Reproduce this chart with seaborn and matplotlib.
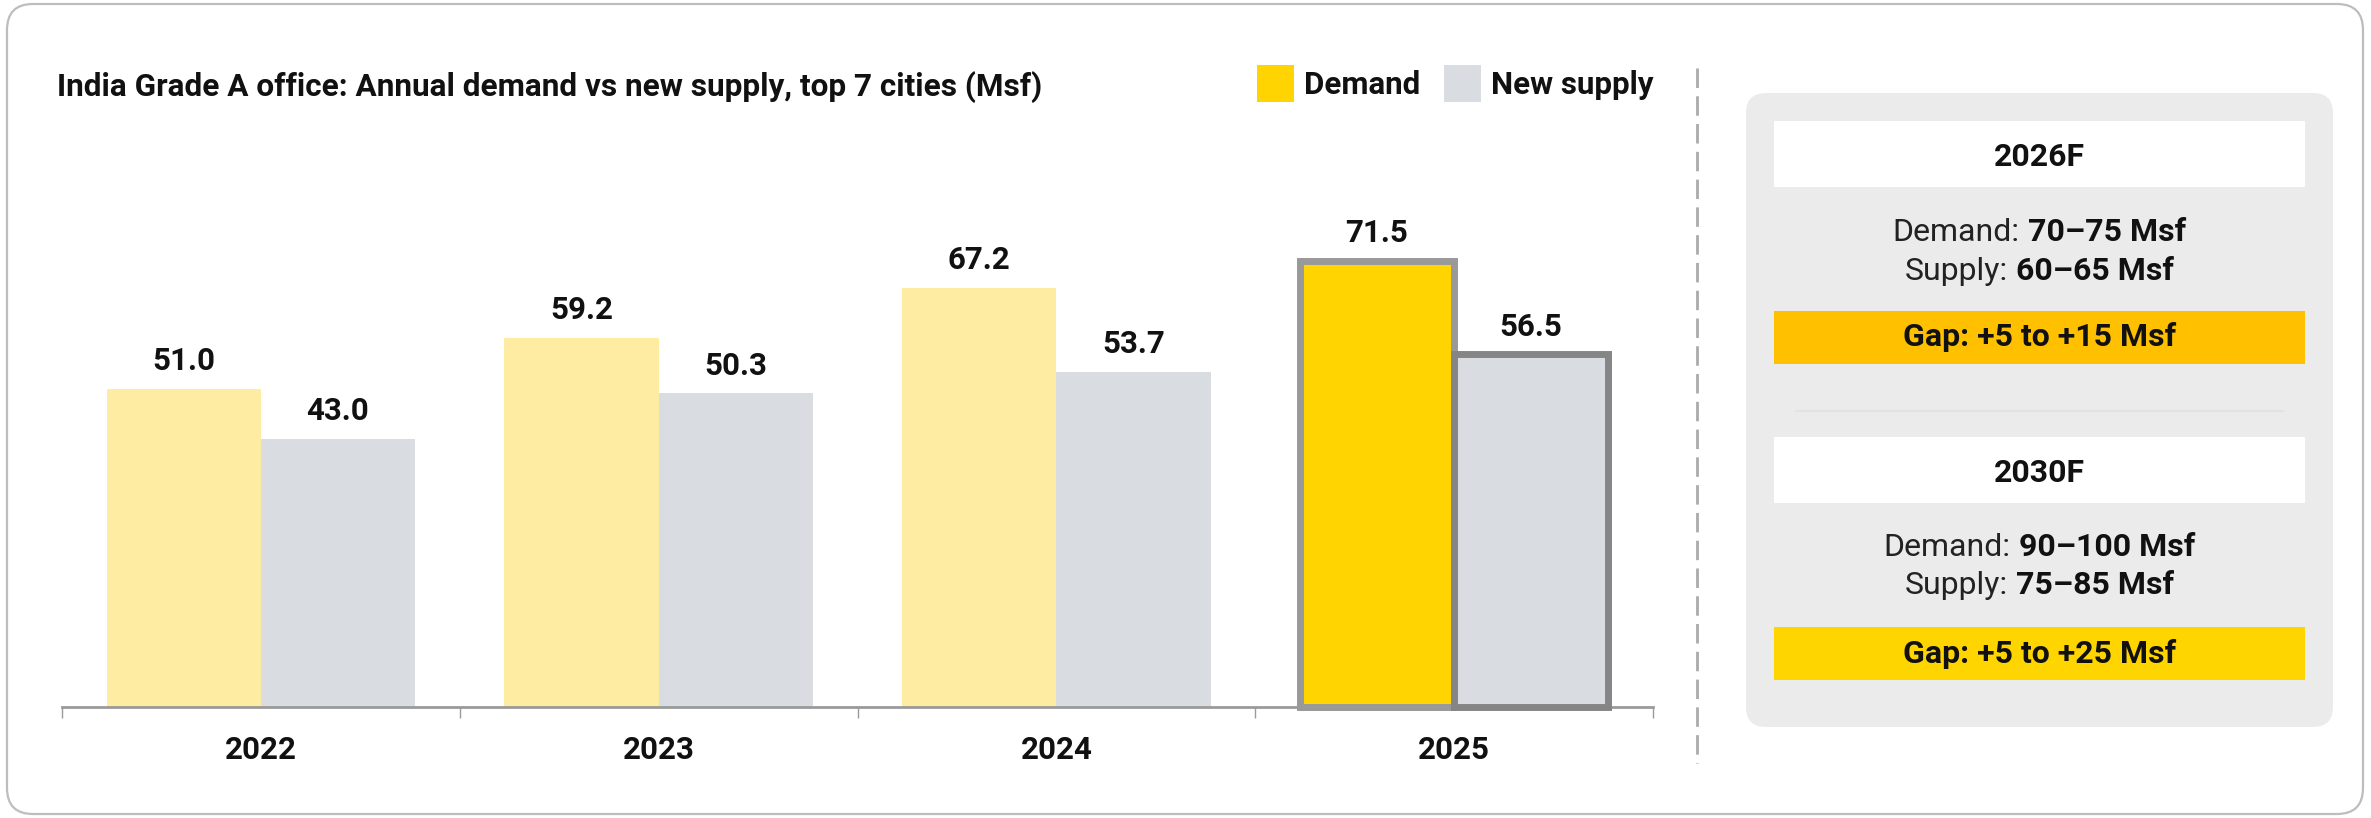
import numpy as np
import pandas as pd
import seaborn as sns
import matplotlib.pyplot as plt
from matplotlib.patches import FancyBboxPatch, Rectangle
from matplotlib.lines import Line2D
from matplotlib.transforms import IdentityTransform

# data
years = ['2022', '2023', '2024', '2025']
demand = [51.0, 59.2, 67.2, 71.5]
new_supply = [43.0, 50.3, 53.7, 56.5]

fc_years = ['2026F', '2030F']
fc_demand = ['70\u201375 Msf', '90\u2013100 Msf']
fc_supply = ['60\u201365 Msf', '75\u201385 Msf']
fc_gap = ['Gap: +5 to +15 Msf', 'Gap: +5 to +25 Msf']
fc_gap_colors = ['#FFC000', '#FFD500']

title = 'India Grade A office: Annual demand vs new supply, top 7 cities (Msf)'

YELLOW = '#FFD400'
YELLOW_LIGHT = '#FFECA3'
GREY_BAR = '#D9DCE1'

W, H = 2371, 818
FS = 22.5      # chart text
FS_P = 23      # forecast panel text

sns.set_theme(style='white')
plt.rcParams['font.family'] = ['Roboto', 'DejaVu Sans']

df = pd.DataFrame({
    'year': years * 2,
    'value': demand + new_supply,
    'series': ['Demand'] * len(years) + ['New supply'] * len(years),
})

fig = plt.figure(figsize=(W / 100, H / 100), dpi=100)
ident = IdentityTransform()

# bar chart area (pixel positions converted to figure fractions)
ax_l, ax_r, ax_b, ax_t = 62, 1653, 707, 130
ax = fig.add_axes([ax_l / W, 1 - ax_b / H, (ax_r - ax_l) / W, (ax_b - ax_t) / H])

sns.barplot(data=df, x='year', y='value', hue='series',
            palette={'Demand': YELLOW, 'New supply': GREY_BAR},
            width=0.775, saturation=1, linewidth=0, errorbar=None,
            legend=False, ax=ax)

ax.set_ylim(0, (ax_b - ax_t) / 6.24)
ax.set_xlim(-0.5, len(years) - 0.5)

# faded past-year demand, outlined latest year
for i, p in enumerate(ax.containers[0]):
    if i < len(years) - 1:
        p.set_facecolor(YELLOW_LIGHT)
    else:
        p.set_edgecolor('#999999')
        p.set_linewidth(5)
        p.set_clip_on(False)
p = ax.containers[1][len(years) - 1]
p.set_edgecolor('#858585')
p.set_linewidth(5)
p.set_clip_on(False)
p.set_zorder(3)

for c in ax.containers:
    ax.bar_label(c, fmt='%.1f', padding=9, fontsize=FS, fontweight='bold', color='#111111')

sns.despine(ax=ax, left=True)
ax.spines['bottom'].set_color('#9A9A9A')
ax.spines['bottom'].set_linewidth(2)
ax.set_yticks([])
ax.set_xlabel('')
ax.set_ylabel('')
ax.set_xticks(np.arange(-0.5, len(years)), minor=True)
ax.tick_params(axis='x', which='minor', length=8, width=1, color='#9A9A9A', bottom=True)
ax.tick_params(axis='x', which='major', length=0, pad=20, labelsize=FS, labelcolor='#111111')
for lbl in ax.get_xticklabels():
    lbl.set_fontweight('bold')

# title and legend
fig.text(57, H - 96, title, transform=ident, fontsize=22.7, fontweight='bold',
         color='#111111', va='baseline', ha='left')
for x0, col, name in [(1257, YELLOW, 'Demand'), (1444, GREY_BAR, 'New supply')]:
    fig.add_artist(Rectangle((x0, H - 102), 37, 37, transform=ident,
                             facecolor=col, edgecolor='none'))
    fig.text(x0 + 47, H - 94, name, transform=ident, fontsize=FS, fontweight='bold',
             color='#111111', va='baseline', ha='left')

# outer frame and dashed divider
fig.add_artist(FancyBboxPatch((7, 4), 2356, 810, boxstyle='round,pad=0,rounding_size=26',
                              transform=ident, facecolor='none', edgecolor='#BDBDBD', linewidth=1.6))
fig.add_artist(Line2D([1697, 1697], [H - 68, H - 763], transform=ident,
                      color='#AAAAAA', linewidth=2, dashes=(7, 3)))

# forecast panel
fig.add_artist(FancyBboxPatch((1746, H - 727), 587, 634, boxstyle='round,pad=0,rounding_size=20',
                              transform=ident, facecolor='#EBEBEB', edgecolor='none'))
fig.add_artist(Line2D([1796, 2283], [H - 411, H - 411], transform=ident,
                      color='#E2E2E2', linewidth=1.5))

renderer = fig.canvas.get_renderer()
cx = (1774 + 2305) / 2
blocks = [(121, 187, 166, 241, 280, 311, 364, 346),
          (437, 503, 482, 556, 594, 627, 680, 663)]
for k, (h0, h1, hb, db, sb, g0, g1, gb) in enumerate(blocks):
    fig.add_artist(Rectangle((1774, H - h1), 531, h1 - h0, transform=ident,
                             facecolor='white', edgecolor='none'))
    fig.text(cx, H - hb, fc_years[k], transform=ident, fontsize=FS_P, fontweight='bold',
             color='#111111', ha='center', va='baseline')
    for yb, lab, val in [(db, 'Demand:', fc_demand[k]), (sb, 'Supply:', fc_supply[k])]:
        t1 = fig.text(0, H - yb, lab, transform=ident, fontsize=FS_P, color='#222222',
                      ha='left', va='baseline')
        t2 = fig.text(0, H - yb, val, transform=ident, fontsize=FS_P, fontweight='bold',
                      color='#111111', ha='left', va='baseline')
        w1 = t1.get_window_extent(renderer).width
        w2 = t2.get_window_extent(renderer).width
        gap = 8
        x0 = cx - (w1 + gap + w2) / 2
        t1.set_x(x0)
        t2.set_x(x0 + w1 + gap)
    fig.add_artist(Rectangle((1774, H - g1), 531, g1 - g0, transform=ident,
                             facecolor=fc_gap_colors[k], edgecolor='none'))
    fig.text(cx, H - gb, fc_gap[k], transform=ident, fontsize=FS_P, fontweight='bold',
             color='#111111', ha='center', va='baseline')

fig.savefig('out.png', dpi=100)
